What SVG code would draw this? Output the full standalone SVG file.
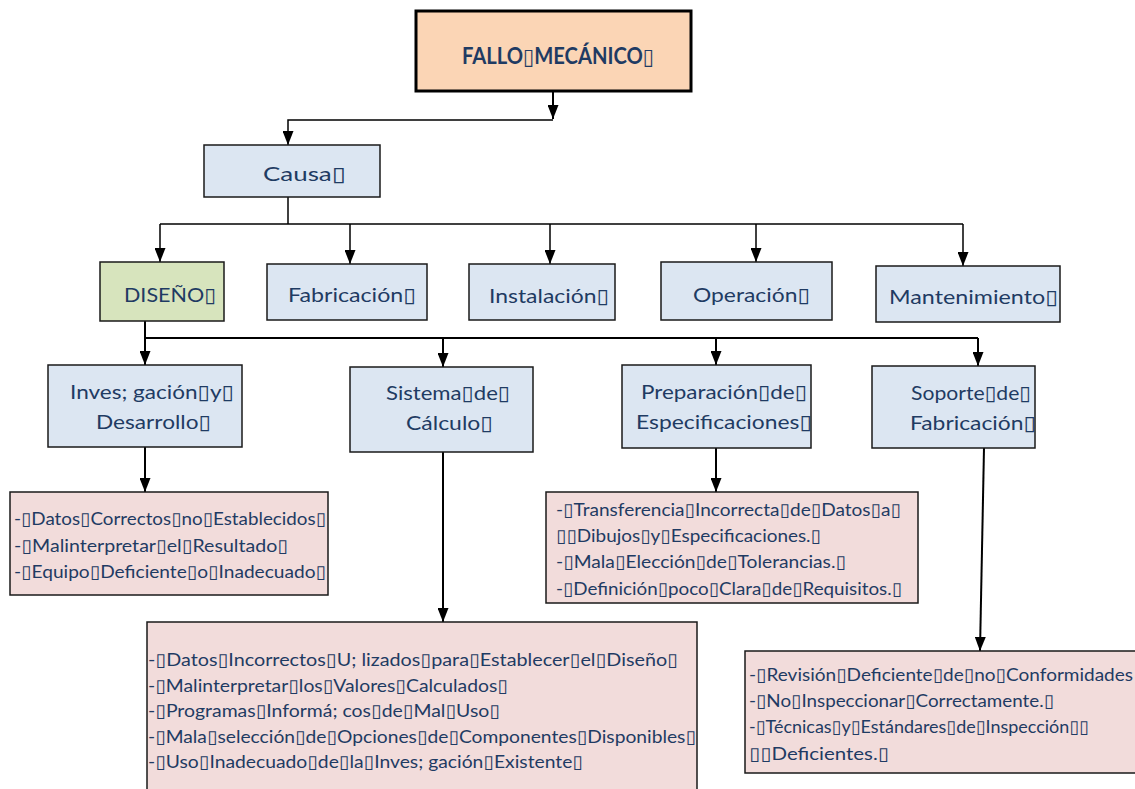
<svg xmlns="http://www.w3.org/2000/svg" width="1135" height="789" viewBox="0 0 1135 789">
  <style>
    .box { stroke: #1a1a1a; stroke-width: 1.5; }
    .blue { fill: #DCE6F2; }
    .green { fill: #D7E4BD; }
    .peach { fill: #FBD5B5; }
    .pink { fill: #F2DCDB; }
    text { font-family: Lato, "DejaVu Sans", sans-serif; fill: #1F3B63; }
    .title { font-size: 22px; font-weight: bold; }
    .hd { font-size: 20px; }
    .body { font-size: 18px; }
    .wire { stroke: #000; stroke-width: 1.5; fill: none; }
    .wire2 { stroke: #000; stroke-width: 2; fill: none; }
  </style>
  <defs>
    <marker id="arrow" viewBox="0 0 14 11" refX="14" refY="5.5" markerWidth="14" markerHeight="11" markerUnits="userSpaceOnUse" orient="auto">
      <path d="M0,0 L14,5.5 L0,11 z" fill="#000"/>
    </marker>
  </defs>
  <rect width="1135" height="789" fill="#fff"/>

  <!-- connectors -->
  <g id="connectors">
    <path class="wire2" d="M553,92 V119" marker-end="url(#arrow)"/>
    <path class="wire" d="M553,120 H288 V145" marker-end="url(#arrow)"/>
    <path class="wire" d="M288,197 V224"/>
    <path class="wire" d="M160,224 H963"/>
    <path class="wire" d="M160,224 V262" marker-end="url(#arrow)"/>
    <path class="wire" d="M350,224 V264" marker-end="url(#arrow)"/>
    <path class="wire" d="M550,224 V264" marker-end="url(#arrow)"/>
    <path class="wire" d="M756,224 V262" marker-end="url(#arrow)"/>
    <path class="wire" d="M963,224 V266" marker-end="url(#arrow)"/>
    <path class="wire2" d="M145,321 V338"/>
    <path class="wire2" d="M145,338 H978"/>
    <path class="wire2" d="M145,338 V365" marker-end="url(#arrow)"/>
    <path class="wire2" d="M443,338 V367" marker-end="url(#arrow)"/>
    <path class="wire2" d="M716,338 V365" marker-end="url(#arrow)"/>
    <path class="wire2" d="M978,338 V366" marker-end="url(#arrow)"/>
    <path class="wire2" d="M145,447 V492" marker-end="url(#arrow)"/>
    <path class="wire2" d="M443,452 V622" marker-end="url(#arrow)"/>
    <path class="wire2" d="M716,448 V492" marker-end="url(#arrow)"/>
    <path class="wire2" d="M984,448 L980,651" marker-end="url(#arrow)"/>
  </g>

  <g id="fallo">
    <rect x="416" y="11" width="275" height="80" class="peach" stroke="#000" stroke-width="3"/>
    <text class="title" x="462" y="64" textLength="192" lengthAdjust="spacingAndGlyphs">FALLO▯MECÁNICO▯</text>
  </g>

  <g id="causa">
    <rect x="204" y="145" width="176" height="52" class="box blue"/>
    <text class="hd" x="263" y="181" textLength="83" lengthAdjust="spacingAndGlyphs">Causa▯</text>
  </g>

  <g id="diseno">
    <rect x="100" y="262" width="124" height="59" class="box green"/>
    <text class="hd" x="124" y="302" textLength="92" lengthAdjust="spacingAndGlyphs">DISEÑO▯</text>
  </g>
  <g id="fabricacion">
    <rect x="267" y="264" width="160" height="56" class="box blue"/>
    <text class="hd" x="288" y="302" textLength="128" lengthAdjust="spacingAndGlyphs">Fabricación▯</text>
  </g>
  <g id="instalacion">
    <rect x="469" y="264" width="146" height="56" class="box blue"/>
    <text class="hd" x="489" y="303" textLength="120" lengthAdjust="spacingAndGlyphs">Instalación▯</text>
  </g>
  <g id="operacion">
    <rect x="661" y="262" width="171" height="58" class="box blue"/>
    <text class="hd" x="693" y="302" textLength="117" lengthAdjust="spacingAndGlyphs">Operación▯</text>
  </g>
  <g id="mantenimiento">
    <rect x="876" y="266" width="184" height="56" class="box blue"/>
    <text class="hd" x="889" y="304" textLength="169" lengthAdjust="spacingAndGlyphs">Mantenimiento▯</text>
  </g>

  <g id="investigacion">
    <rect x="48" y="365" width="194" height="82" class="box blue"/>
    <text class="hd" x="70" y="399" textLength="164" lengthAdjust="spacingAndGlyphs">Inves; gación▯y▯</text>
    <text class="hd" x="96" y="429" textLength="115" lengthAdjust="spacingAndGlyphs">Desarrollo▯</text>
  </g>
  <g id="sistema">
    <rect x="350" y="367" width="183" height="85" class="box blue"/>
    <text class="hd" x="386" y="400" textLength="124" lengthAdjust="spacingAndGlyphs">Sistema▯de▯</text>
    <text class="hd" x="406" y="430" textLength="87" lengthAdjust="spacingAndGlyphs">Cálculo▯</text>
  </g>
  <g id="preparacion">
    <rect x="622" y="365" width="189" height="83" class="box blue"/>
    <text class="hd" x="641" y="399" textLength="166" lengthAdjust="spacingAndGlyphs">Preparación▯de▯</text>
    <text class="hd" x="636" y="429" textLength="176" lengthAdjust="spacingAndGlyphs">Especificaciones▯</text>
  </g>
  <g id="soporte">
    <rect x="872" y="366" width="163" height="82" class="box blue"/>
    <text class="hd" x="911" y="400" textLength="120" lengthAdjust="spacingAndGlyphs">Soporte▯de▯</text>
    <text class="hd" x="910" y="430" textLength="126" lengthAdjust="spacingAndGlyphs">Fabricación▯</text>
  </g>

  <g id="detalle-investigacion">
    <rect x="10" y="492" width="318" height="103" class="box pink"/>
    <text class="body" x="14" y="525" textLength="312" lengthAdjust="spacingAndGlyphs">-▯Datos▯Correctos▯no▯Establecidos▯</text>
    <text class="body" x="14" y="552" textLength="274" lengthAdjust="spacingAndGlyphs">-▯Malinterpretar▯el▯Resultado▯</text>
    <text class="body" x="14" y="578" textLength="312" lengthAdjust="spacingAndGlyphs">-▯Equipo▯Deficiente▯o▯Inadecuado▯</text>
  </g>

  <g id="detalle-preparacion">
    <rect x="546" y="492" width="372" height="111" class="box pink"/>
    <text class="body" x="556" y="516" textLength="345" lengthAdjust="spacingAndGlyphs">-▯Transferencia▯Incorrecta▯de▯Datos▯a▯</text>
    <text class="body" x="556" y="542" textLength="265" lengthAdjust="spacingAndGlyphs">▯▯Dibujos▯y▯Especificaciones.▯</text>
    <text class="body" x="556" y="568" textLength="290" lengthAdjust="spacingAndGlyphs">-▯Mala▯Elección▯de▯Tolerancias.▯</text>
    <text class="body" x="556" y="595" textLength="346" lengthAdjust="spacingAndGlyphs">-▯Definición▯poco▯Clara▯de▯Requisitos.▯</text>
  </g>

  <g id="detalle-sistema">
    <path d="M147,800 V622 H697 V800" class="box pink"/>
    <text class="body" x="148" y="666" textLength="530" lengthAdjust="spacingAndGlyphs">-▯Datos▯Incorrectos▯U; lizados▯para▯Establecer▯el▯Diseño▯</text>
    <text class="body" x="148" y="692" textLength="360" lengthAdjust="spacingAndGlyphs">-▯Malinterpretar▯los▯Valores▯Calculados▯</text>
    <text class="body" x="148" y="717" textLength="352" lengthAdjust="spacingAndGlyphs">-▯Programas▯Informá; cos▯de▯Mal▯Uso▯</text>
    <text class="body" x="148" y="743" textLength="548" lengthAdjust="spacingAndGlyphs">-▯Mala▯selección▯de▯Opciones▯de▯Componentes▯Disponibles▯</text>
    <text class="body" x="148" y="768" textLength="435" lengthAdjust="spacingAndGlyphs">-▯Uso▯Inadecuado▯de▯la▯Inves; gación▯Existente▯</text>
  </g>

  <g id="detalle-soporte">
    <rect x="745" y="651" width="395" height="122" class="box pink"/>
    <text class="body" x="749" y="681" textLength="384" lengthAdjust="spacingAndGlyphs">-▯Revisión▯Deficiente▯de▯no▯Conformidades</text>
    <text class="body" x="749" y="707" textLength="305" lengthAdjust="spacingAndGlyphs">-▯No▯Inspeccionar▯Correctamente.▯</text>
    <text class="body" x="749" y="733" textLength="340" lengthAdjust="spacingAndGlyphs">-▯Técnicas▯y▯Estándares▯de▯Inspección▯▯</text>
    <text class="body" x="749" y="760" textLength="140" lengthAdjust="spacingAndGlyphs">▯▯Deficientes.▯</text>
  </g>
</svg>
